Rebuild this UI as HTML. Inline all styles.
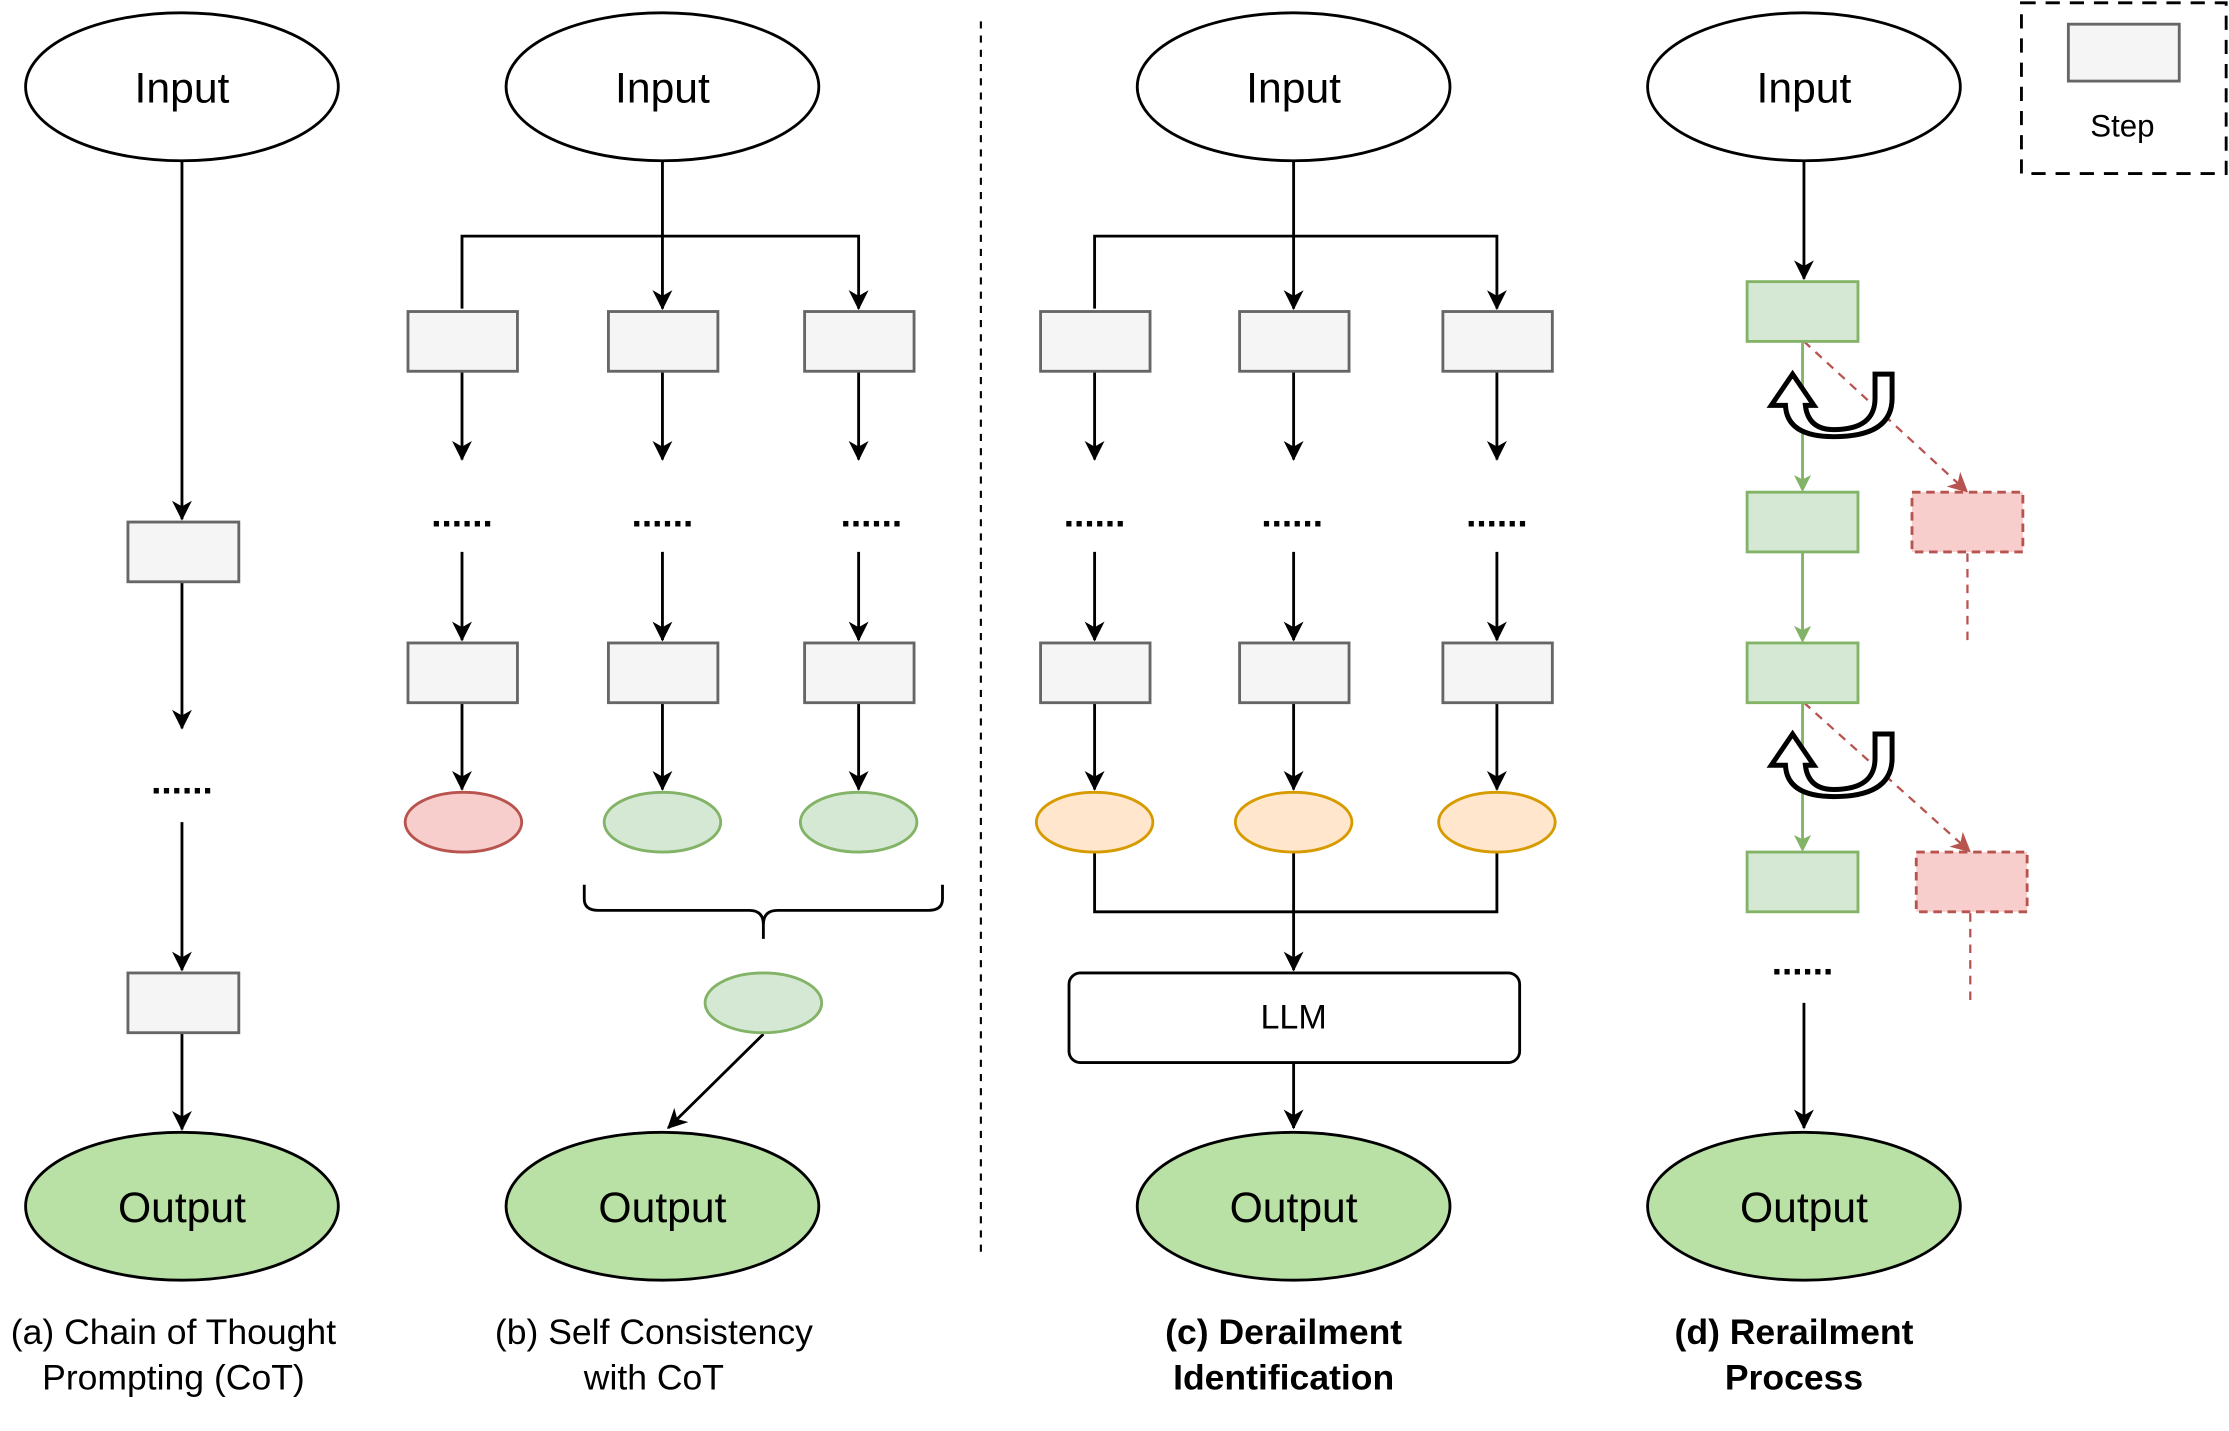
<!DOCTYPE html>
<html><head><meta charset="utf-8"><style>html,body{margin:0;padding:0;background:#fff}svg{display:block}</style></head>
<body>
<svg width="2229" height="1431" viewBox="0 0 1568 1006" preserveAspectRatio="none" xmlns="http://www.w3.org/2000/svg" font-family="Liberation Sans, Arial, sans-serif">
<defs>
<marker id="ab" markerWidth="14" markerHeight="14" refX="13" refY="7" orient="auto" markerUnits="userSpaceOnUse" viewBox="0 0 14 14"><path d="M0,0 L14,7 L0,14 L4,7 z" fill="#000"/></marker>
<marker id="ag" markerWidth="12" markerHeight="12" refX="10" refY="6" orient="auto" markerUnits="userSpaceOnUse" viewBox="0 0 12 12"><path d="M0,0 L12,6 L0,12 L3,6 z" fill="#82b366"/></marker>
<marker id="ar" markerWidth="14" markerHeight="14" refX="12" refY="7" orient="auto" markerUnits="userSpaceOnUse" viewBox="0 0 14 14"><path d="M0,0 L14,7 L0,14 L4,7 z" fill="#b85450"/></marker>
</defs>
<g stroke="#000" stroke-width="2" fill="none">
<ellipse cx="128" cy="61" rx="110" ry="52" fill="#fff"/>
<ellipse cx="466" cy="61" rx="110" ry="52" fill="#fff"/>
<ellipse cx="910" cy="61" rx="110" ry="52" fill="#fff"/>
<ellipse cx="1269" cy="61" rx="110" ry="52" fill="#fff"/>
<ellipse cx="128" cy="848" rx="110" ry="52" fill="#b9e0a5"/>
<ellipse cx="466" cy="848" rx="110" ry="52" fill="#b9e0a5"/>
<ellipse cx="910" cy="848" rx="110" ry="52" fill="#b9e0a5"/>
<ellipse cx="1269" cy="848" rx="110" ry="52" fill="#b9e0a5"/>
<line x1="690" y1="15" x2="690" y2="880" stroke-dasharray="5,5" stroke-width="1.5"/>
<rect x="1422" y="2" width="144" height="120" stroke-dasharray="10,7"/>
</g>
<rect x="1455" y="17" width="78" height="40" fill="#f5f5f5" stroke="#666" stroke-width="2"/>

<g stroke="#000" stroke-width="2" fill="none" marker-end="url(#ab)">
<line x1="128" y1="113" x2="128" y2="365"/>
<line x1="128" y1="409" x2="128" y2="512"/>
<line x1="128" y1="578" x2="128" y2="682"/>
<line x1="128" y1="726" x2="128" y2="794"/>
<line x1="466" y1="113" x2="466" y2="217"/>
<polyline points="325,217 325,166 604,166 604,217"/>
<line x1="325" y1="261" x2="325" y2="323"/><line x1="466" y1="261" x2="466" y2="323"/><line x1="604" y1="261" x2="604" y2="323"/>
<line x1="325" y1="388" x2="325" y2="450"/><line x1="466" y1="388" x2="466" y2="450"/><line x1="604" y1="388" x2="604" y2="450"/>
<line x1="325" y1="494" x2="325" y2="555"/><line x1="466" y1="494" x2="466" y2="555"/><line x1="604" y1="494" x2="604" y2="555"/>
<line x1="537" y1="727" x2="470" y2="793"/>
<line x1="910" y1="113" x2="910" y2="217"/>
<polyline points="770,217 770,166 1053,166 1053,217"/>
<line x1="770" y1="261" x2="770" y2="323"/><line x1="910" y1="261" x2="910" y2="323"/><line x1="1053" y1="261" x2="1053" y2="323"/>
<line x1="770" y1="388" x2="770" y2="450"/><line x1="910" y1="388" x2="910" y2="450"/><line x1="1053" y1="388" x2="1053" y2="450"/>
<line x1="770" y1="494" x2="770" y2="555"/><line x1="910" y1="494" x2="910" y2="555"/><line x1="1053" y1="494" x2="1053" y2="555"/>
<line x1="910" y1="599" x2="910" y2="682"/>
<line x1="910" y1="747" x2="910" y2="793"/>
<line x1="1269" y1="113" x2="1269" y2="196"/>
<line x1="1269" y1="705" x2="1269" y2="793"/>
</g>
<polyline points="770,599 770,641 1053,641 1053,599" stroke="#000" stroke-width="2" fill="none"/>
<path d="M411,622 v10 q0,8 10,8 h106 q10,0 10,10 v10 M537,650 q0,-10 10,-10 h106 q10,0 10,-8 v-10" stroke="#000" stroke-width="2" fill="none"/>

<g fill="#f5f5f5" stroke="#666" stroke-width="2">
<rect x="90" y="367" width="78" height="42"/><rect x="90" y="684" width="78" height="42"/>
<rect x="287" y="219" width="77" height="42"/><rect x="428" y="219" width="77" height="42"/><rect x="566" y="219" width="77" height="42"/>
<rect x="287" y="452" width="77" height="42"/><rect x="428" y="452" width="77" height="42"/><rect x="566" y="452" width="77" height="42"/>
<rect x="732" y="219" width="77" height="42"/><rect x="872" y="219" width="77" height="42"/><rect x="1015" y="219" width="77" height="42"/>
<rect x="732" y="452" width="77" height="42"/><rect x="872" y="452" width="77" height="42"/><rect x="1015" y="452" width="77" height="42"/>
</g>
<ellipse cx="326" cy="578" rx="41" ry="21" fill="#f8cecc" stroke="#b85450" stroke-width="2"/>
<ellipse cx="466" cy="578" rx="41" ry="21" fill="#d5e8d4" stroke="#82b366" stroke-width="2"/>
<ellipse cx="604" cy="578" rx="41" ry="21" fill="#d5e8d4" stroke="#82b366" stroke-width="2"/>
<ellipse cx="537" cy="705" rx="41" ry="21" fill="#d5e8d4" stroke="#82b366" stroke-width="2"/>
<g fill="#ffe6cc" stroke="#d79b00" stroke-width="2">
<ellipse cx="770" cy="578" rx="41" ry="21"/><ellipse cx="910" cy="578" rx="41" ry="21"/><ellipse cx="1053" cy="578" rx="41" ry="21"/>
</g>
<rect x="752" y="684" width="317" height="63" rx="8" fill="#fff" stroke="#000" stroke-width="2"/>

<g stroke="#82b366" stroke-width="2" marker-end="url(#ag)">
<line x1="1268" y1="240" x2="1268" y2="344"/>
<line x1="1268" y1="388" x2="1268" y2="450"/>
<line x1="1268" y1="494" x2="1268" y2="597"/>
</g>
<g stroke="#b85450" stroke-width="1.6" stroke-dasharray="6,5" fill="none">
<line x1="1269" y1="240" x2="1383" y2="345" marker-end="url(#ar)"/>
<line x1="1269" y1="494" x2="1385" y2="598" marker-end="url(#ar)"/>
<line x1="1384" y1="389" x2="1384" y2="452"/>
<line x1="1386" y1="642" x2="1386" y2="705"/>
</g>
<g fill="#d5e8d4" stroke="#82b366" stroke-width="2">
<rect x="1229" y="198" width="78" height="42"/><rect x="1229" y="346" width="78" height="42"/>
<rect x="1229" y="452" width="78" height="42"/><rect x="1229" y="599" width="78" height="42"/>
</g>
<g fill="#f8cecc" stroke="#b85450" stroke-width="2" stroke-dasharray="6,4">
<rect x="1345" y="346" width="78" height="42"/><rect x="1348" y="599" width="78" height="42"/>
</g>
<g fill="#fff" stroke="#000" stroke-width="3.5" stroke-linejoin="miter">
<path d="M1261,263 L1276,285 L1270,285 Q1272,302 1290,302 Q1319,302 1319,280 L1319,263 L1331,263 L1331,280 Q1331,307 1290,307 Q1257,307 1256,285 L1246,285 Z"/>
<path d="M1261,516 L1276,538 L1270,538 Q1272,555 1290,555 Q1319,555 1319,533 L1319,516 L1331,516 L1331,533 Q1331,560 1290,560 Q1257,560 1256,538 L1246,538 Z"/>
</g>

<g font-size="30" text-anchor="middle" fill="#000">
<text x="128" y="72">Input</text><text x="466" y="72">Input</text><text x="910" y="72">Input</text><text x="1269" y="72">Input</text>
<text x="128" y="859">Output</text><text x="466" y="859">Output</text><text x="910" y="859">Output</text><text x="1269" y="859">Output</text>
</g>
<g font-size="26" font-weight="bold" text-anchor="middle" fill="#000">
<text x="128" y="558">......</text>
<text x="325" y="370">......</text><text x="466" y="370">......</text><text x="613" y="370">......</text>
<text x="770" y="370">......</text><text x="909" y="370">......</text><text x="1053" y="370">......</text>
<text x="1268" y="685">......</text>
</g>
<text x="910" y="723" font-size="24" text-anchor="middle">LLM</text>
<text x="1493" y="96" font-size="22" text-anchor="middle">Step</text>
<g font-size="25" text-anchor="middle" fill="#000">
<text x="122" y="945">(a) Chain of Thought</text><text x="122" y="977">Prompting (CoT)</text>
<text x="460" y="945">(b) Self Consistency</text><text x="460" y="977">with CoT</text>
<g font-weight="bold">
<text x="903" y="945">(c) Derailment</text><text x="903" y="977">Identification</text>
<text x="1262" y="945">(d) Rerailment</text><text x="1262" y="977">Process</text>
</g>
</g>
</svg>
</body></html>
